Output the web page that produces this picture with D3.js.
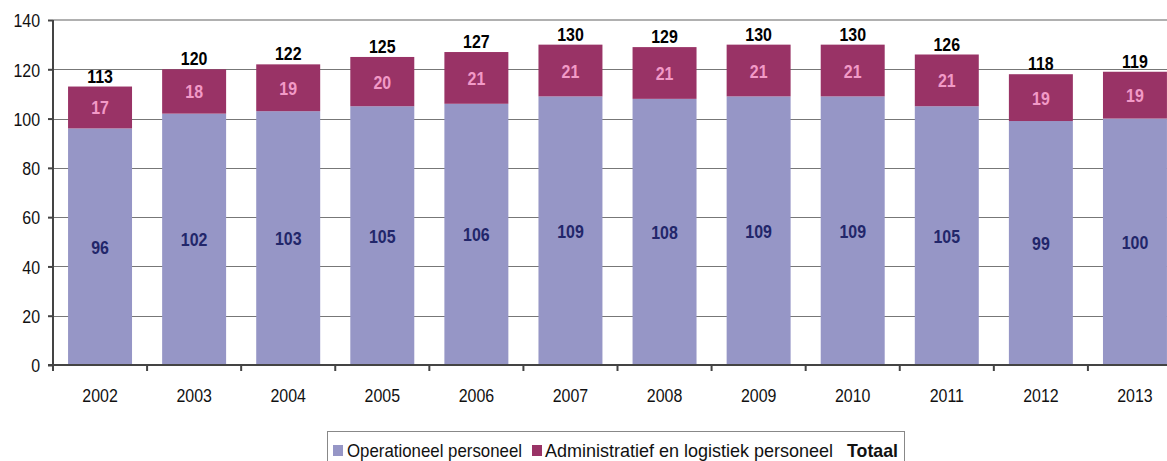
<!DOCTYPE html>
<html>
<head>
<meta charset="utf-8">
<script src="https://cdn.jsdelivr.net/npm/d3@7/dist/d3.min.js"></script>
<style>
  html, body { margin: 0; padding: 0; background: #fff; overflow: hidden; }
  svg { display: block; font-family: "Liberation Sans", Arial, sans-serif; }
</style>
</head>
<body>
<svg id="chart" width="1167" height="461"></svg>
<script>
// Personnel counts per year
const years = ["2002","2003","2004","2005","2006","2007","2008","2009","2010","2011","2012","2013"];
const operationeel = [96,102,103,105,106,109,108,109,109,105,99,100];
const administratief = [17,18,19,20,21,21,21,21,21,21,19,19];
const totaal = [113,120,122,125,127,130,129,130,130,126,118,119];
const yTicks = [0,20,40,60,80,100,120,140];
const seriesNames = ["Operationeel personeel", "Administratief en logistiek personeel", "Totaal"];

const colOps = "#9696c6";
const colAdm = "#993366";
const SQUEEZE = 0.84; // condensed lettering

const svg = d3.select("#chart");
const plotLeft = 53, plotRight = 1182, plotTop = 20, plotBottom = 365;

const x = d3.scaleBand().domain(years).range([plotLeft, plotRight]).paddingInner(0.32).paddingOuter(0.16);
const y = d3.scaleLinear().domain([0, 140]).range([plotBottom, plotTop]);

// place condensed text at (px, py)
function squeezed(sel, px, py) {
  return sel.attr("transform", (d, i) => {
    const a = typeof px === "function" ? px(d, i) : px;
    const b = typeof py === "function" ? py(d, i) : py;
    return `translate(${a},${b}) scale(${SQUEEZE},1)`;
  });
}

// gridlines
svg.append("g").selectAll("line").data(yTicks.filter(d => d > 0 && d < 140)).join("line")
  .attr("x1", plotLeft).attr("x2", plotRight)
  .attr("y1", d => Math.round(y(d)) + 0.5).attr("y2", d => Math.round(y(d)) + 0.5)
  .attr("stroke", "#777").attr("stroke-width", 1);
// top border of plot area
svg.append("line").attr("x1", plotLeft).attr("x2", plotRight)
  .attr("y1", y(140)).attr("y2", y(140))
  .attr("stroke", "#b0b0b0").attr("stroke-width", 2);

const rows = years.map((yr, i) => ({ yr, ops: operationeel[i], adm: administratief[i], tot: totaal[i] }));

// stacked bars
const bars = svg.append("g");
bars.selectAll("rect.ops").data(rows).join("rect").attr("class", "ops")
  .attr("x", d => x(d.yr)).attr("width", x.bandwidth())
  .attr("y", d => y(d.ops)).attr("height", d => y(0) - y(d.ops))
  .attr("fill", colOps);
bars.selectAll("rect.adm").data(rows).join("rect").attr("class", "adm")
  .attr("x", d => x(d.yr)).attr("width", x.bandwidth())
  .attr("y", d => y(d.ops + d.adm)).attr("height", d => y(d.ops) - y(d.ops + d.adm))
  .attr("fill", colAdm);

// y axis
const yAxis = svg.append("g").attr("transform", `translate(${plotLeft},0)`)
  .call(d3.axisLeft(y).tickValues(yTicks).tickSize(5).tickPadding(8));
yAxis.select(".domain").attr("stroke", "#444").attr("stroke-width", 2).attr("d", `M0,${plotTop}V${plotBottom}`);
yAxis.selectAll(".tick line").attr("stroke", "#444").attr("stroke-width", 2);
yAxis.selectAll(".tick text").attr("font-size", 19).attr("fill", "#111")
  .attr("font-family", null)
  .attr("x", -13 / SQUEEZE).attr("dy", "0.36em")
  .attr("transform", `scale(${SQUEEZE},1)`);

// x axis with ticks between categories
const xg = svg.append("g").attr("transform", `translate(0,${plotBottom})`);
xg.append("line").attr("x1", plotLeft - 5).attr("x2", plotRight).attr("y1", 0).attr("y2", 0)
  .attr("stroke", "#444").attr("stroke-width", 2);
const step = x.step();
const boundaries = d3.range(years.length + 1).map(i => plotLeft + i * step);
xg.selectAll("line.tk").data(boundaries).join("line").attr("class", "tk")
  .attr("x1", d => d).attr("x2", d => d).attr("y1", 0).attr("y2", 6)
  .attr("stroke", "#444").attr("stroke-width", 2);
squeezed(xg.selectAll("text").data(years).join("text"), d => x(d) + x.bandwidth() / 2, 37)
  .attr("text-anchor", "middle").attr("font-size", 19).attr("fill", "#111")
  .text(d => d);

// value labels
const cx = d => x(d.yr) + x.bandwidth() / 2;
const lab = svg.append("g").attr("font-weight", "bold").attr("font-size", 19).attr("text-anchor", "middle");
squeezed(lab.selectAll("text.ops").data(rows).join("text").attr("class", "ops"), cx, d => y(d.ops / 2) + 7)
  .attr("fill", "#22266a").text(d => d.ops);
squeezed(lab.selectAll("text.adm").data(rows).join("text").attr("class", "adm"), cx, d => y(d.ops + d.adm / 2) + 7)
  .attr("fill", "#f29ac7").text(d => d.adm);
squeezed(lab.selectAll("text.tot").data(rows).join("text").attr("class", "tot"), cx, d => y(d.tot) - 4)
  .attr("fill", "#000").text(d => d.tot);

// legend
const lg = svg.append("g").attr("transform", "translate(327,431)");
lg.append("rect").attr("x", 0.5).attr("y", 0.5).attr("width", 577).attr("height", 40)
  .attr("fill", "#fff").attr("stroke", "#888").attr("stroke-width", 1);
lg.append("rect").attr("x", 6).attr("y", 14).attr("width", 10).attr("height", 11).attr("fill", colOps);
lg.append("text").attr("x", 20).attr("y", 26).attr("font-size", 19).attr("fill", "#111")
  .attr("textLength", 175).attr("lengthAdjust", "spacingAndGlyphs").text(seriesNames[0]);
lg.append("rect").attr("x", 205).attr("y", 14).attr("width", 10).attr("height", 11).attr("fill", colAdm);
lg.append("text").attr("x", 218).attr("y", 26).attr("font-size", 19).attr("fill", "#111")
  .attr("textLength", 288).attr("lengthAdjust", "spacingAndGlyphs").text(seriesNames[1]);
lg.append("text").attr("x", 520).attr("y", 26).attr("font-size", 19).attr("font-weight", "bold")
  .attr("fill", "#111").attr("textLength", 51).attr("lengthAdjust", "spacingAndGlyphs").text(seriesNames[2]);
</script>
</body>
</html>
